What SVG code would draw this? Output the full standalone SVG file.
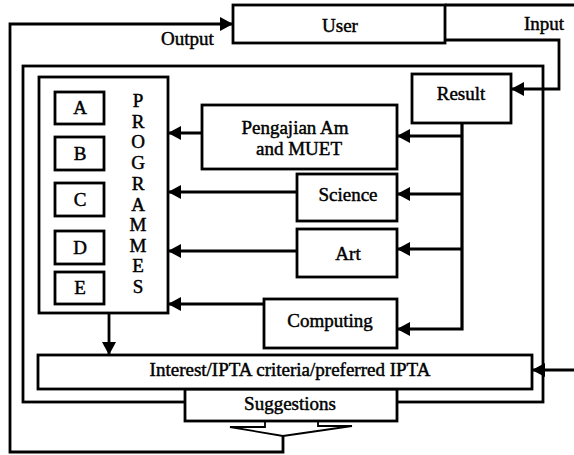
<svg xmlns="http://www.w3.org/2000/svg" width="574" height="455" viewBox="0 0 574 455">
<defs>
<marker id="ah" markerUnits="userSpaceOnUse" markerWidth="13" markerHeight="14" refX="13" refY="7" orient="auto">
<path d="M0,0 L13,7 L0,14 z" fill="#000"/>
</marker>
</defs>
<style>
.box{fill:#fff;stroke:#000;stroke-width:2.8}
.frame{fill:none;stroke:#000;stroke-width:2.8}
.ln{fill:none;stroke:#000;stroke-width:2.8}
.thin{fill:none;stroke:#000;stroke-width:1.8}
text{font-family:"Liberation Serif","Times New Roman",serif;font-size:19px;fill:#000;stroke:#000;stroke-width:0.45}
.c{text-anchor:middle}
</style>
<rect width="574" height="455" fill="#fff"/>

<g id="container">
<rect class="frame" x="23" y="66" width="520" height="336"/>
</g>

<g id="suggestions">
<rect class="box" x="185" y="389" width="212" height="32"/>
<text class="c" x="290" y="410">Suggestions</text>
<path class="thin" d="M265,421 V427 H230 L283,436 L352,426 H318 V421"/>
</g>

<g id="interest">
<rect class="box" x="38" y="355" width="494" height="34"/>
<text class="c" x="290" y="376">Interest/IPTA criteria/preferred IPTA</text>
</g>

<g id="user">
<rect class="box" x="233" y="5" width="212" height="38"/>
<text class="c" x="340" y="32">User</text>
</g>

<g id="result">
<rect class="box" x="412" y="74" width="99" height="49"/>
<text class="c" x="461" y="100">Result</text>
</g>

<g id="programmes">
<rect class="box" x="39" y="77" width="129" height="236"/>
<g id="prog-a"><rect class="box" x="55" y="92" width="49" height="32"/><text class="c" x="80" y="114">A</text></g>
<g id="prog-b"><rect class="box" x="55" y="137" width="49" height="33"/><text class="c" x="80" y="160">B</text></g>
<g id="prog-c"><rect class="box" x="55" y="183" width="49" height="33"/><text class="c" x="80" y="206">C</text></g>
<g id="prog-d"><rect class="box" x="55" y="231" width="49" height="33"/><text class="c" x="80" y="254">D</text></g>
<g id="prog-e"><rect class="box" x="55" y="272" width="49" height="32"/><text class="c" x="80" y="294">E</text></g>
<g>
<text class="c" x="138" y="107">P</text>
<text class="c" x="138" y="128">R</text>
<text class="c" x="138" y="148">O</text>
<text class="c" x="138" y="169">G</text>
<text class="c" x="138" y="190">R</text>
<text class="c" x="138" y="211">A</text>
<text class="c" x="138" y="231">M</text>
<text class="c" x="138" y="252">M</text>
<text class="c" x="138" y="272">E</text>
<text class="c" x="138" y="293">S</text>
</g>
</g>

<g id="pengajian">
<rect class="box" x="202" y="105" width="195" height="64"/>
<text class="c" x="295" y="134">Pengajian Am</text>
<text class="c" x="299" y="155">and MUET</text>
</g>

<g id="science">
<rect class="box" x="297" y="174" width="100" height="47"/>
<text class="c" x="348" y="201">Science</text>
</g>

<g id="art">
<rect class="box" x="297" y="229" width="100" height="48"/>
<text class="c" x="348" y="260">Art</text>
</g>

<g id="computing">
<rect class="box" x="264" y="299" width="133" height="49"/>
<text class="c" x="330" y="327">Computing</text>
</g>

<g id="labels">
<text x="161" y="45">Output</text>
<text x="524" y="30">Input</text>
</g>

<g id="connectors">
<path class="ln" d="M445,40 H559 V89 H511" marker-end="url(#ah)"/>
<path class="ln" d="M445,5 H600 V370 H532" marker-end="url(#ah)"/>
<path class="ln" d="M283,436 V452 H10 V24 H233" marker-end="url(#ah)"/>
<path class="ln" d="M462,123 V329 H397" marker-end="url(#ah)" style="stroke-width:3.2"/>
<path class="ln" d="M462,136 H397" marker-end="url(#ah)"/>
<path class="ln" d="M462,194 H397" marker-end="url(#ah)"/>
<path class="ln" d="M462,249 H397" marker-end="url(#ah)"/>
<path class="ln" d="M202,133 H168" marker-end="url(#ah)"/>
<path class="ln" d="M297,192 H168" marker-end="url(#ah)"/>
<path class="ln" d="M297,251 H168" marker-end="url(#ah)"/>
<path class="ln" d="M264,304 H168" marker-end="url(#ah)"/>
<path class="ln" d="M109,313 V355" marker-end="url(#ah)"/>
</g>
</svg>
